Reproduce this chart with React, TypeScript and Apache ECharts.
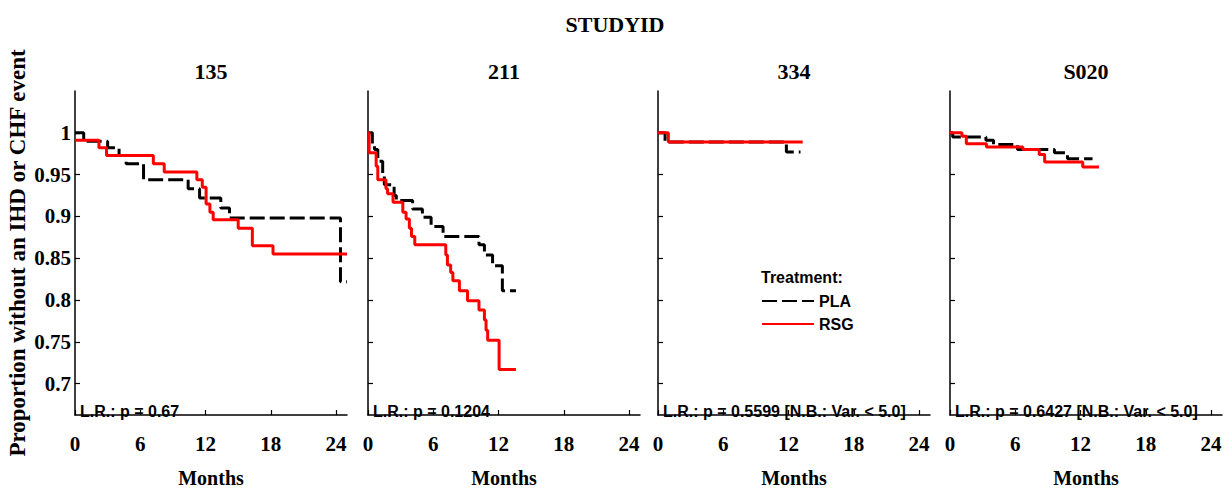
import React, { useEffect, useRef } from "react";
import * as echarts from "echarts";

// Kaplan–Meier estimates per study: [months, proportion event-free]
const studies = ["135", "211", "334", "S020"];

const pla135 = [[0, 1], [0.8, 0.990], [3.0, 0.982], [4.05, 0.973], [4.7, 0.963], [6.3, 0.944], [10.4, 0.933], [11.45, 0.922], [13.4, 0.910], [14.2, 0.898], [24.4, 0.822], [25.0, 0.822]];
const rsg135 = [[0, 0.991], [2.2, 0.982], [2.9, 0.973], [7.2, 0.963], [8.2, 0.953], [11.2, 0.944], [11.7, 0.935], [12.05, 0.915], [12.4, 0.905], [12.7, 0.896], [15.0, 0.886], [16.3, 0.865], [18.2, 0.855], [25.0, 0.855]];

const pla211 = [[0, 1], [0.4, 0.986], [0.6, 0.98], [0.9, 0.966], [1.35, 0.95], [1.5, 0.938], [2.4, 0.925], [2.6, 0.919], [4.1, 0.909], [5.0, 0.899], [5.8, 0.888], [6.9, 0.876], [10.2, 0.866], [10.7, 0.854], [11.45, 0.841], [12.35, 0.811], [13.6, 0.811]];
const rsg211 = [[0, 1], [0.1, 0.976], [0.75, 0.96], [0.9, 0.944], [1.65, 0.933], [1.8, 0.927], [2.3, 0.917], [3.2, 0.905], [3.5, 0.897], [3.8, 0.886], [4.0, 0.876], [4.3, 0.866], [7.15, 0.854], [7.3, 0.842], [7.6, 0.833], [7.8, 0.823], [8.4, 0.811], [9.15, 0.799], [10.2, 0.788], [10.7, 0.776], [10.85, 0.764], [11.0, 0.752], [12.05, 0.717], [13.6, 0.717]];

const pla334 = [[0, 1], [0.65, 0.989], [11.8, 0.977], [13.1, 0.977]];
const rsg334 = [[0, 1], [0.95, 0.989], [13.3, 0.989]];

const plaS020 = [[0, 1], [0.25, 0.995], [3.3, 0.991], [4.0, 0.986], [6.2, 0.98], [9.6, 0.976], [10.8, 0.969], [13.1, 0.969]];
const rsgS020 = [[0, 1], [1.1, 0.996], [1.5, 0.987], [3.35, 0.983], [6.7, 0.98], [8.2, 0.974], [8.7, 0.965], [12.2, 0.959], [13.7, 0.959]];

const plaCurves = [pla135, pla211, pla334, plaS020];
const rsgCurves = [rsg135, rsg211, rsg334, rsgS020];

const pValueLabels = [
  "L.R.: p = 0.67",
  "L.R.: p = 0.1204",
  "L.R.: p = 0.5599 [N.B.: Var. < 5.0]",
  "L.R.: p = 0.6427 [N.B.: Var. < 5.0]",
];

const monthTicks = [0, 6, 12, 18, 24];
const proportionTicks = [0.7, 0.75, 0.8, 0.85, 0.9, 0.95, 1];

const SERIF = '"Liberation Serif", "Times New Roman", serif';
const SANS = '"Liberation Sans", Arial, sans-serif';

const panelLeft = [75, 368, 658, 950];
const panelWidth = 272;
const panelTop = 91;
const panelHeight = 329;

export default function App() {
  const ref = useRef<HTMLDivElement>(null);

  useEffect(() => {
    if (!ref.current) return;
    const chart = echarts.init(ref.current, undefined, { renderer: "svg" });

    const grids = studies.map((_, i) => ({
      left: panelLeft[i],
      top: panelTop,
      width: panelWidth,
      height: panelHeight,
      containLabel: false,
    }));

    const xAxes = studies.map((_, i) => ({
      type: "value",
      gridIndex: i,
      min: 0,
      max: 25,
      name: "Months",
      nameLocation: "middle",
      nameGap: 53,
      nameTextStyle: { fontFamily: SERIF, fontWeight: "bold", fontSize: 20, color: "#000" },
      splitLine: { show: false },
      axisLine: { show: true, lineStyle: { color: "#000", width: 1.5 } },
      axisTick: { show: true, inside: true, length: 5, customValues: monthTicks, lineStyle: { color: "#000", width: 1.2 } },
      axisLabel: {
        customValues: monthTicks,
        margin: 18,
        fontFamily: SERIF,
        fontWeight: "bold",
        fontSize: 21,
        color: "#000",
      },
    }));

    const yAxes = studies.map((_, i) => ({
      type: "value",
      gridIndex: i,
      min: 0.6625,
      max: 1.05,
      name: i === 0 ? "Proportion without an IHD or CHF event" : "",
      nameLocation: "middle",
      nameGap: 46,
      nameTextStyle: { fontFamily: SERIF, fontWeight: "bold", fontSize: 23, color: "#000" },
      splitLine: { show: false },
      axisLine: { show: true, lineStyle: { color: "#000", width: 1.5 } },
      axisTick: { show: true, inside: true, length: 5, customValues: proportionTicks, lineStyle: { color: "#000", width: 1.2 } },
      axisLabel: {
        show: i === 0,
        customValues: proportionTicks,
        margin: 4,
        fontFamily: SERIF,
        fontWeight: "bold",
        fontSize: 21,
        color: "#000",
        formatter: (v: number) => String(Number(v.toFixed(2))),
      },
    }));

    const series: any[] = [];
    studies.forEach((s, i) => {
      series.push({
        type: "line",
        name: "PLA",
        xAxisIndex: i,
        yAxisIndex: i,
        data: plaCurves[i],
        step: "end",
        symbol: "none",
        color: "#000",
        lineStyle: { color: "#000", width: 3, type: [15, 5] },
      });
    });
    studies.forEach((s, i) => {
      series.push({
        type: "line",
        name: "RSG",
        xAxisIndex: i,
        yAxisIndex: i,
        data: rsgCurves[i],
        step: "end",
        symbol: "none",
        color: "#ff0000",
        lineStyle: { color: "#ff0000", width: 3 },
      });
    });

    const titles: any[] = [
      {
        text: "STUDYID",
        left: 615,
        top: 13,
        textAlign: "center",
        padding: 0,
        textStyle: { fontFamily: SERIF, fontWeight: "bold", fontSize: 22, color: "#000" },
      },
      ...studies.map((s, i) => ({
        text: s,
        left: panelLeft[i] + panelWidth / 2,
        top: 60,
        textAlign: "center",
        padding: 0,
        textStyle: { fontFamily: SERIF, fontWeight: "bold", fontSize: 22, color: "#000" },
      })),
    ];

    const graphics: any[] = [
      ...pValueLabels.map((t, i) => ({
        type: "text",
        left: panelLeft[i] + 5,
        top: 403,
        style: { text: t, fontFamily: SANS, fontWeight: "bold", fontSize: 16, fill: "#000" },
      })),
      {
        type: "text",
        left: 761,
        top: 269,
        style: { text: "Treatment:", fontFamily: SANS, fontWeight: "bold", fontSize: 16, fill: "#000" },
      },
    ];

    chart.setOption({
      animation: false,
      backgroundColor: "#fff",
      title: titles,
      grid: grids,
      xAxis: xAxes,
      yAxis: yAxes,
      legend: {
        orient: "vertical",
        left: 761,
        top: 293,
        padding: 0,
        itemWidth: 52,
        itemHeight: 14,
        itemGap: 7,
        itemStyle: { opacity: 0 },
        data: ["PLA", "RSG"],
        textStyle: { fontFamily: SANS, fontWeight: "bold", fontSize: 16, color: "#000" },
      },
      graphic: graphics,
      series,
    });

    return () => chart.dispose();
  }, []);

  return (
    <div
      ref={ref}
      style={{ position: "absolute", left: 0, top: 0, width: 1231, height: 493, background: "#fff" }}
    />
  );
}
